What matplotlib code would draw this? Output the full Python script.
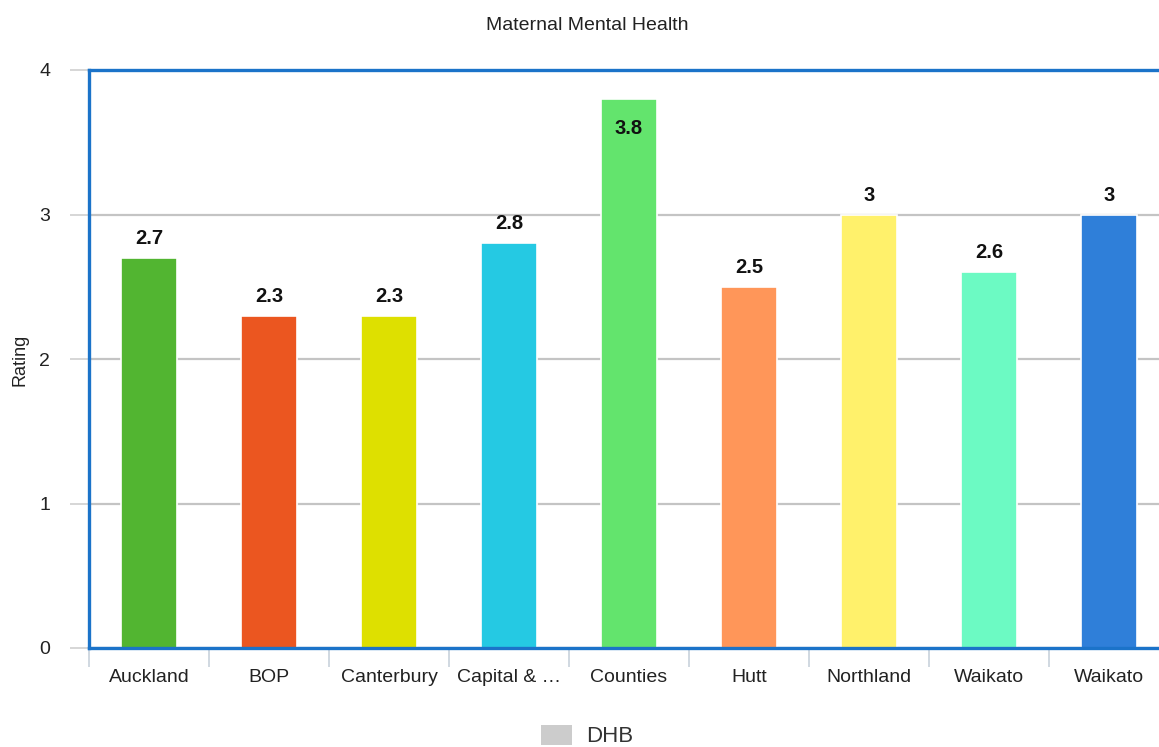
import matplotlib
matplotlib.use("Agg")
import matplotlib.pyplot as plt
from matplotlib.patches import Patch
import numpy as np

plt.rcParams['font.family'] = ['Liberation Sans', 'DejaVu Sans']

# DHB ratings for maternal mental health
regions = ["Auckland", "BOP", "Canterbury", "Capital & \u2026", "Counties",
           "Hutt", "Northland", "Waikato", "Waikato"]
ratings = [2.7, 2.3, 2.3, 2.8, 3.8, 2.5, 3.0, 2.6, 3.0]
value_labels = ["2.7", "2.3", "2.3", "2.8", "3.8", "2.5", "3", "2.6", "3"]
colors = ["#52b531", "#eb5620", "#dee000", "#25c9e3", "#63e46d",
          "#ff9659", "#fff16b", "#6cfac3", "#2f7fd9"]

fig = plt.figure(figsize=(11.59, 7.47), dpi=100)
ax = fig.add_axes([89 / 1159, 99 / 747, 1080 / 1159, 578 / 747])

x = np.arange(len(regions))
bars = ax.bar(x, ratings, width=0.47, color=colors, edgecolor="white",
              linewidth=1.2, zorder=3)

for xi, val, lab in zip(x, ratings, value_labels):
    if val > 3.6:
        ax.annotate(lab, (xi, val), xytext=(0, -21), textcoords="offset points",
                    ha="center", va="center", fontsize=14.5, fontweight="bold",
                    color="#111111", zorder=4)
    else:
        ax.annotate(lab, (xi, val), xytext=(0, 14), textcoords="offset points",
                    ha="center", va="center", fontsize=14.5, fontweight="bold",
                    color="#111111", zorder=4)

ax.set_xlim(-0.5, len(regions) - 0.5)
ax.set_ylim(0, 4)
ax.set_yticks([0, 1, 2, 3, 4])
ax.yaxis.grid(True, color="#c4c4c4", linewidth=1.6, zorder=0)

# category separators as major ticks, names on minor ticks
ax.set_xticks(np.append(x - 0.5, x[-1] + 0.5))
ax.set_xticks(x, minor=True)
ax.set_xticklabels([])
ax.set_xticklabels(regions, minor=True)
ax.tick_params(axis="x", which="major", length=14, width=1.2, color="#c8d2dc",
               direction="out")
ax.tick_params(axis="x", which="minor", length=0, pad=15, labelsize=14,
               labelcolor="#222222")
ax.tick_params(axis="y", length=14, width=1.2, color="#cfcfcf", pad=14,
               labelsize=14, labelcolor="#222222")

fig.text(20 / 1159, 1 - 360 / 747, "Rating", rotation=90, ha="center",
         va="center", fontsize=13, color="#222222")

for side in ["left", "top", "bottom"]:
    ax.spines[side].set_color("#1b73c9")
    ax.spines[side].set_linewidth(2.4)
    ax.spines[side].set_zorder(5)
ax.spines["right"].set_visible(False)

fig.text(587 / 1159, 1 - 25 / 747, "Maternal Mental Health", ha="center",
         va="center", fontsize=14, color="#222222")

fig.legend(handles=[Patch(facecolor="#cccccc", edgecolor="none", label="DHB")],
           loc="center", bbox_to_anchor=(587 / 1159, 1 - 736 / 747),
           frameon=False, fontsize=16, handlelength=1.4, handleheight=1.0,
           handletextpad=0.6, labelcolor="#333333")

fig.savefig("out.png", dpi=100)
